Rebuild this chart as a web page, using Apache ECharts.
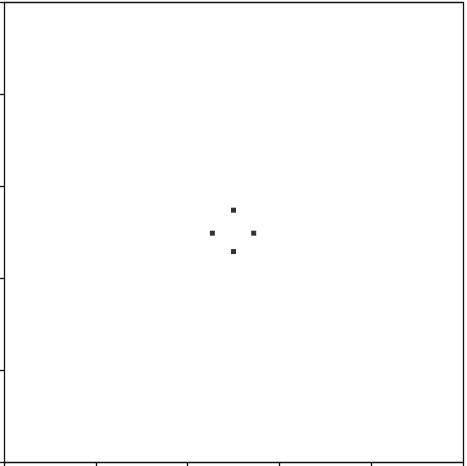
<!DOCTYPE html>
<html><head><meta charset="utf-8">
<script src="https://cdn.jsdelivr.net/npm/echarts@6/dist/echarts.min.js"></script>
<style>html,body{margin:0;padding:0;background:#fff}#c{width:467px;height:466px}</style>
</head><body><div id="c"></div>
<script>
const xValues = [2.50, 2.27, 2.72, 2.50];
const yValues = [2.74, 2.49, 2.49, 2.29];
const axisMin = 0, axisMax = 5, axisStep = 1;

const points = xValues.map((x, i) => [x, yValues[i]]);
const chart = echarts.init(document.getElementById('c'), null, {renderer: 'canvas'});
const lineStyle = {color: '#111', width: 1.3};
const baseAxis = (pos, show) => ({
  type: 'value', min: axisMin, max: axisMax, interval: axisStep, position: pos,
  axisLine: {show: true, onZero: false, lineStyle},
  axisTick: {show: show, inside: false, length: 4, lineStyle},
  axisLabel: {show: false}, splitLine: {show: false}
});
chart.setOption({
  animation: false,
  backgroundColor: '#fff',
  grid: {left: 4, right: 4, top: 2.5, bottom: 4, containLabel: false},
  xAxis: [baseAxis('bottom', true), baseAxis('top', false)],
  yAxis: [baseAxis('left', true), baseAxis('right', false)],
  series: [{
    type: 'scatter', data: points, symbol: 'rect', symbolSize: 5,
    itemStyle: {color: '#000'}
  }]
});
</script></body></html>
